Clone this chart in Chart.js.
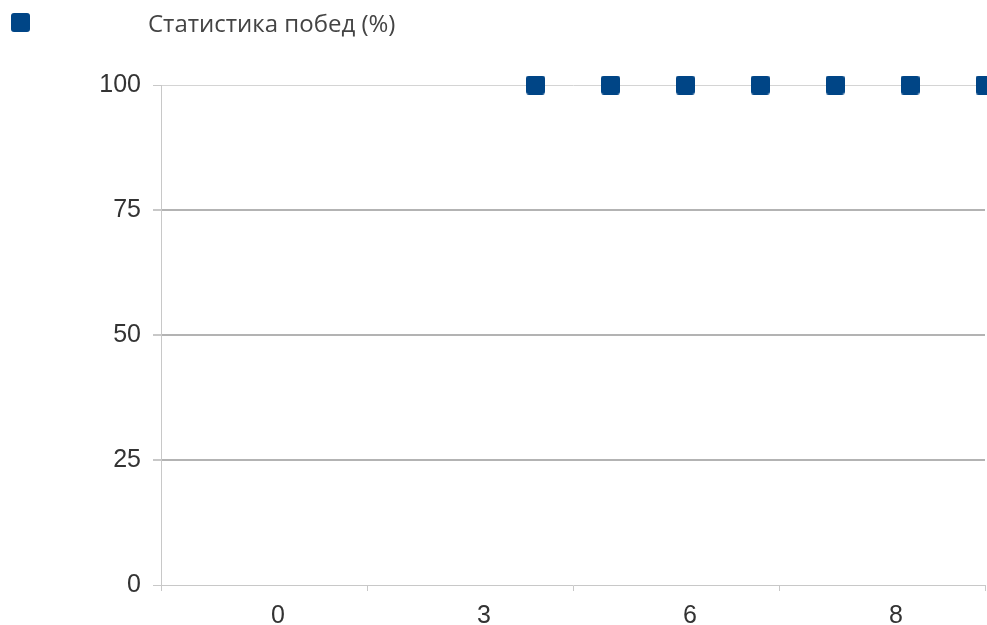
<!DOCTYPE html>
<html>
<head>
<meta charset="utf-8">
<script src="https://cdn.jsdelivr.net/npm/chart.js@4.4.0/dist/chart.umd.min.js"></script>
<style>
  html, body { margin: 0; padding: 0; background: #fff; }
  #chart { display: block; }
</style>
</head>
<body>
<canvas id="chart" width="987" height="625"></canvas>
<script>
var seriesLabel = "Статистика побед (%)";
var xTickLabels = ["0", "3", "6", "8"];
var gameIndex = [5, 6, 7, 8, 9, 10, 11];
var winRate = [100, 100, 100, 100, 100, 100, 100];
var yTicks = [0, 25, 50, 75, 100];

var seriesColor = "#004586";

// rounded square used both for points and the legend box
function makeMarker(size, radius) {
    var c = document.createElement("canvas");
    c.width = size;
    c.height = size;
    var g = c.getContext("2d");
    g.fillStyle = seriesColor;
    g.beginPath();
    g.roundRect(0, 0, size, size, radius);
    g.fill();
    return c;
}
var marker = makeMarker(19, 3);

var legendPlugin = {
    id: "sideLegend",
    afterDraw: function(chart) {
        var ctx = chart.ctx;
        var ds = chart.data.datasets[0];
        ctx.save();
        ctx.drawImage(marker, 11, 13);
        ctx.fillStyle = "#444444";
        ctx.font = "24px 'Open Sans'";
        ctx.textBaseline = "middle";
        ctx.textAlign = "left";
        ctx.fillText(ds.label, 148, 25);
        ctx.restore();
    }
};

var points = gameIndex.map(function(x, i) { return { x: x, y: winRate[i] }; });

new Chart(document.getElementById("chart"), {
    type: "scatter",
    data: {
        datasets: [{
            label: seriesLabel,
            data: points,
            backgroundColor: seriesColor,
            borderColor: seriesColor,
            pointStyle: marker,
            pointRadius: 10,
            pointHoverRadius: 10,
            showLine: false,
            xAxisID: "x",
            yAxisID: "y",
            clip: false
        }]
    },
    options: {
        responsive: false,
        animation: false,
        devicePixelRatio: 1,
        layout: { autoPadding: false, padding: { top: 85, right: 2, left: 0, bottom: 0 } },
        plugins: {
            legend: { display: false },
            tooltip: { enabled: false }
        },
        scales: {
            x: {
                type: "linear",
                display: false,
                min: 0,
                max: 11
            },
            xCat: {
                type: "category",
                position: "bottom",
                labels: xTickLabels,
                offset: true,
                afterFit: function(scale) { scale.height = 40; },
                border: { display: true, color: "#c8c8c8", width: 1 },
                grid: {
                    offset: true,
                    drawOnChartArea: true,
                    tickLength: 6,
                    tickColor: "#c8c8c8",
                    color: function(c) { return c.index === xTickLabels.length ? "#c8c8c8" : "rgba(0,0,0,0)"; }
                },
                ticks: {
                    color: "#333333",
                    padding: 10,
                    labelOffset: 14,
                    font: { family: "'Liberation Sans', Arial, sans-serif", size: 25 }
                }
            },
            y: {
                type: "linear",
                min: 0,
                max: 100,
                afterFit: function(scale) { scale.width = 161; },
                afterBuildTicks: function(scale) {
                    scale.ticks = yTicks.map(function(v) { return { value: v }; });
                },
                border: { display: true, color: "#c8c8c8", width: 1 },
                grid: {
                    tickLength: 8,
                    tickColor: "#c8c8c8",
                    color: function(c) {
                        if (c.index === 0) return "rgba(0,0,0,0)";
                        if (c.index === yTicks.length - 1) return "#d4d4d4";
                        return "#b3b3b3";
                    },
                    lineWidth: function(c) {
                        return (c.index > 0 && c.index < yTicks.length - 1) ? 2 : 1;
                    }
                },
                ticks: {
                    color: "#333333",
                    padding: 12,
                    font: { family: "'Liberation Sans', Arial, sans-serif", size: 25 }
                }
            }
        }
    },
    plugins: [legendPlugin]
});
</script>
</body>
</html>
